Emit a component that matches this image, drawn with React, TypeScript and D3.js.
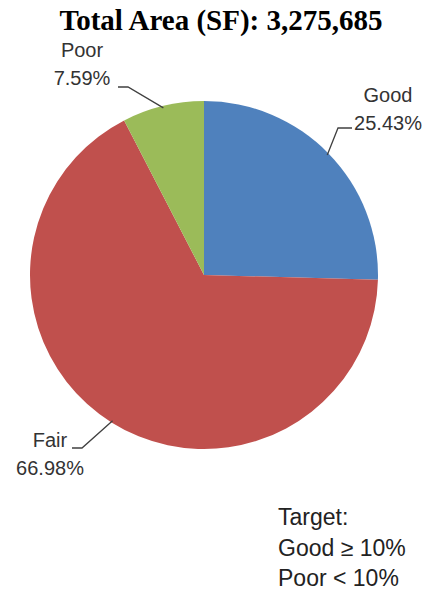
import React, { useEffect, useRef } from "react";
import * as d3 from "d3";

const categories = ["Good", "Fair", "Poor"];
const shares = [25.43, 66.98, 7.59];
const colors = ["#4F81BD", "#C0504D", "#9BBB59"];
const title = "Total Area (SF): 3,275,685";
const targetLines = ["Target:", "Good \u2265 10%", "Poor < 10%"];

// label layout: where the text sits and where the leader elbow goes
const labelLayout: Record<string, { x: number; y: number; anchor: string; elbow: [number, number]; end: [number, number] }> = {
  Good: { x: 388, y: 102, anchor: "middle", elbow: [338, 128], end: [352, 128] },
  Fair: { x: 50, y: 447, anchor: "middle", elbow: [82, 448], end: [72, 448] },
  Poor: { x: 82, y: 57, anchor: "middle", elbow: [128, 87], end: [118, 87] },
};

const App: React.FC = () => {
  const svgRef = useRef<SVGSVGElement | null>(null);

  useEffect(() => {
    if (!svgRef.current) return;
    const width = 428;
    const height = 592;
    const cx = 204;
    const cy = 275;
    const radius = 174;

    d3.select(svgRef.current).selectAll("*").remove();
    const svg = d3.select(svgRef.current).attr("width", width).attr("height", height);

    svg
      .append("text")
      .attr("x", 221)
      .attr("y", 30)
      .attr("text-anchor", "middle")
      .attr("font-family", "'Liberation Serif', 'Times New Roman', serif")
      .attr("font-weight", "bold")
      .attr("font-size", 29)
      .attr("fill", "#000")
      .text(title);

    const data = categories.map((c, i) => ({ category: c, value: shares[i], color: colors[i] }));
    const pie = d3
      .pie<{ category: string; value: number; color: string }>()
      .sort(null)
      .value((d) => d.value);
    const arcs = pie(data);
    const arc = d3
      .arc<d3.PieArcDatum<{ category: string; value: number; color: string }>>()
      .innerRadius(0)
      .outerRadius(radius);

    const g = svg.append("g").attr("transform", `translate(${cx},${cy})`);
    g.selectAll("path")
      .data(arcs)
      .enter()
      .append("path")
      .attr("d", arc)
      .attr("fill", (d) => d.data.color);

    // leader lines
    const labels = svg.append("g");
    arcs.forEach((a) => {
      const L = labelLayout[a.data.category];
      const mid = (a.startAngle + a.endAngle) / 2;
      const r = radius - 2;
      const px = cx + r * Math.sin(mid);
      const py = cy - r * Math.cos(mid);
      labels
        .append("polyline")
        .attr("points", `${px},${py} ${L.elbow[0]},${L.elbow[1]} ${L.end[0]},${L.end[1]}`)
        .attr("fill", "none")
        .attr("stroke", "#404040")
        .attr("stroke-width", 1.3);

      const t = labels
        .append("text")
        .attr("x", L.x)
        .attr("y", L.y)
        .attr("text-anchor", L.anchor)
        .attr("font-family", "'Liberation Sans', Arial, sans-serif")
        .attr("font-size", 20)
        .attr("fill", "#333");
      t.append("tspan").attr("x", L.x).text(a.data.category);
      t.append("tspan")
        .attr("x", L.x)
        .attr("dy", 28)
        .text(`${a.data.value.toFixed(2)}%`);
    });

    const target = svg
      .append("text")
      .attr("font-family", "'Liberation Sans', Arial, sans-serif")
      .attr("font-size", 23)
      .attr("fill", "#222");
    targetLines.forEach((line, i) => {
      target
        .append("tspan")
        .attr("x", 278)
        .attr("y", 525 + i * 30.5)
        .text(line);
    });
  }, []);

  return <svg ref={svgRef} style={{ position: "absolute", left: 0, top: 0 }}></svg>;
};

export default App;
